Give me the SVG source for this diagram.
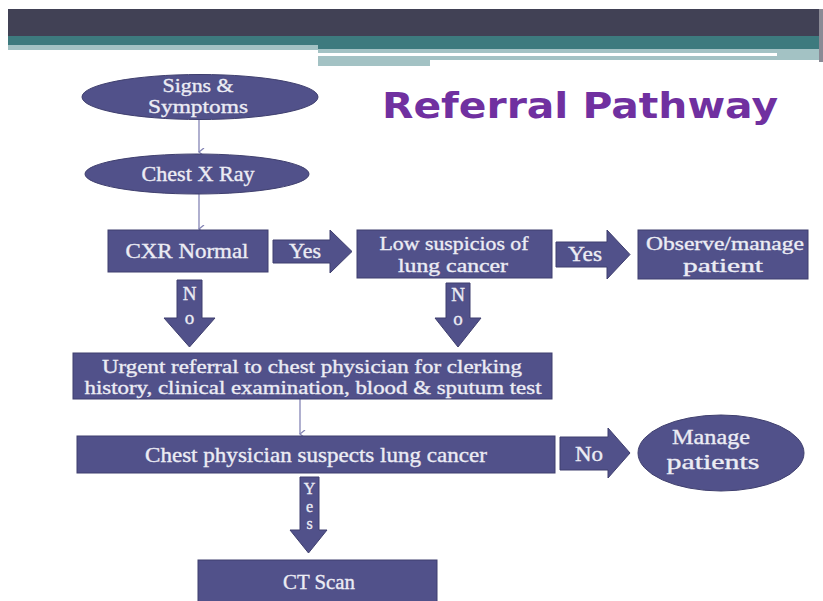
<svg xmlns="http://www.w3.org/2000/svg" width="823" height="601" viewBox="0 0 823 601">
<defs>
<style>
.n{fill:#51518a;stroke:#3f3f6e;stroke-width:1}
.t{font-family:"Liberation Serif","DejaVu Serif",serif;font-size:21px;fill:#ececf4;stroke:#ececf4;stroke-width:0.35;text-anchor:middle}
.s{font-size:19px}
.c{stroke:#8585b5;stroke-width:1.3;fill:none}
.title{font-family:"DejaVu Sans",Verdana,sans-serif;font-weight:bold;font-size:36px;fill:#7030a0}
</style>
<marker id="ah" markerWidth="8" markerHeight="8" refX="4" refY="6" orient="auto" markerUnits="userSpaceOnUse" viewBox="0 0 8 8">
<path d="M0,1 L4,6 L8,1" fill="none" stroke="#8585b5" stroke-width="1.3"/>
</marker>
</defs>
<rect width="823" height="601" fill="#ffffff"/>
<g id="header">
<rect x="8" y="9" width="813" height="27" fill="#414155"/>
<rect x="8" y="36" width="813" height="9" fill="#3d7a7e"/>
<rect x="318" y="36" width="503" height="13" fill="#3d7a7e"/>
<rect x="8" y="45" width="310" height="5" fill="#a3c2c4"/>
<rect x="318" y="49" width="503" height="11" fill="#a3c2c4"/>
<rect x="318" y="53" width="459" height="3" fill="#ffffff"/>
<rect x="318" y="56" width="112" height="10" fill="#a3c2c4"/>
<rect x="819" y="9" width="4" height="53" fill="#8a8a95"/>
</g>
<text class="title" x="382" y="118" textLength="396" lengthAdjust="spacingAndGlyphs">Referral Pathway</text>
<g id="connectors">
<line class="c" x1="199" y1="120" x2="199" y2="152" marker-end="url(#ah)"/>
<line class="c" x1="199" y1="194" x2="199" y2="229" marker-end="url(#ah)"/>
<line class="c" x1="300" y1="399" x2="300" y2="434" marker-end="url(#ah)"/>
<g id="arrow-yes1">
<path class="n" d="M273,240 L330,240 L330,230 L352,251.5 L330,273 L330,263 L273,263 Z"/>
<text class="t" x="305" y="258" textLength="32" lengthAdjust="spacingAndGlyphs">Yes</text>
</g>
<g id="arrow-yes2">
<path class="n" d="M556,242 L607,242 L607,230 L630,254.5 L607,279 L607,267 L556,267 Z"/>
<text class="t" x="585" y="261" textLength="34" lengthAdjust="spacingAndGlyphs">Yes</text>
</g>
<g id="arrow-no1">
<path class="n" d="M177,280 L202,280 L202,318 L215,318 L189.5,347 L164,318 L177,318 Z"/>
<text class="t s" x="189.5" y="300">N</text>
<text class="t s" x="189.5" y="324">o</text>
</g>
<g id="arrow-no2">
<path class="n" d="M446,283 L470,283 L470,318 L481,318 L458,347 L435,318 L446,318 Z"/>
<text class="t s" x="458" y="301">N</text>
<text class="t s" x="458" y="325">o</text>
</g>
<g id="arrow-no3">
<path class="n" d="M560,437 L608,437 L608,428 L630,453 L608,478 L608,470 L560,470 Z"/>
<text class="t" x="589" y="461" textLength="28" lengthAdjust="spacingAndGlyphs">No</text>
</g>
<g id="arrow-yes3">
<path class="n" d="M300,477 L319,477 L319,530 L327,530 L308.5,553 L290,530 L300,530 Z"/>
<text class="t" x="309.5" y="494" style="font-size:16px">Y</text>
<text class="t" x="309.5" y="512" style="font-size:16px">e</text>
<text class="t" x="309.5" y="529" style="font-size:16px">s</text>
</g>
</g>
<g id="signs">
<ellipse class="n" cx="200" cy="97" rx="118" ry="22.5"/>
<text class="t s" x="198" y="92" textLength="71" lengthAdjust="spacingAndGlyphs">Signs &amp;</text>
<text class="t s" x="198" y="113" textLength="100" lengthAdjust="spacingAndGlyphs">Symptoms</text>
</g>
<g id="chestxray">
<ellipse class="n" cx="197" cy="174" rx="112" ry="20"/>
<text class="t" x="198" y="181" textLength="113" lengthAdjust="spacingAndGlyphs">Chest X Ray</text>
</g>
<g id="cxrnormal">
<rect class="n" x="108" y="230" width="160" height="42"/>
<text class="t" x="187" y="258" textLength="123" lengthAdjust="spacingAndGlyphs">CXR Normal</text>
</g>
<g id="lowsusp">
<rect class="n" x="357" y="230" width="195" height="48"/>
<text class="t s" x="454" y="250" textLength="149" lengthAdjust="spacingAndGlyphs">Low suspicios of</text>
<text class="t s" x="453" y="272" textLength="110" lengthAdjust="spacingAndGlyphs">lung cancer</text>
</g>
<g id="observe">
<rect class="n" x="638" y="230" width="170" height="49"/>
<text class="t s" x="725" y="250" textLength="158" lengthAdjust="spacingAndGlyphs">Observe/manage</text>
<text class="t s" x="723" y="272" textLength="80" lengthAdjust="spacingAndGlyphs">patient</text>
</g>
<g id="urgent">
<rect class="n" x="73" y="353" width="479" height="46"/>
<text class="t s" x="312" y="373" textLength="420" lengthAdjust="spacingAndGlyphs">Urgent referral to chest physician for clerking</text>
<text class="t s" x="313" y="394" textLength="457" lengthAdjust="spacingAndGlyphs">history, clinical examination, blood &amp; sputum test</text>
</g>
<g id="suspects">
<rect class="n" x="77" y="436" width="478" height="37"/>
<text class="t" x="316" y="462" textLength="342" lengthAdjust="spacingAndGlyphs">Chest physician suspects lung cancer</text>
</g>
<g id="manage">
<ellipse class="n" cx="721" cy="453" rx="83" ry="38"/>
<text class="t" x="711" y="444" textLength="78" lengthAdjust="spacingAndGlyphs">Manage</text>
<text class="t" x="713" y="469" textLength="93" lengthAdjust="spacingAndGlyphs">patients</text>
</g>
<g id="ctscan">
<rect class="n" x="198" y="560" width="239" height="42"/>
<text class="t" x="319" y="589" textLength="72" lengthAdjust="spacingAndGlyphs">CT Scan</text>
</g>
</svg>
